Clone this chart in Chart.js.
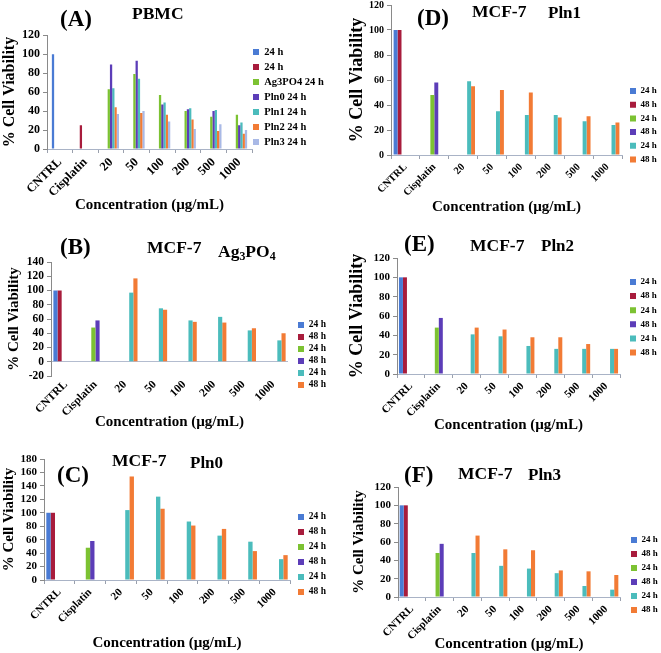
<!DOCTYPE html>
<html><head><meta charset="utf-8">
<script src="https://cdn.jsdelivr.net/npm/chart.js@4.4.0/dist/chart.umd.min.js"></script>
<style>
html,body{margin:0;padding:0;background:#fff;}
#fig{position:relative;width:661px;height:653px;overflow:hidden;background:#fff;}
#fig canvas{position:absolute;}
.t{position:absolute;font-family:"Liberation Serif","Times New Roman",serif;font-weight:bold;line-height:1;white-space:nowrap;color:#000;z-index:2;}
.t sub{font-size:0.68em;vertical-align:-0.25em;line-height:0;}
</style></head><body>
<div id="fig"></div>
<script>
// ---------- data ----------
const categories = ['CNTRL', 'Cisplatin', '20', '50', '100', '200', '500', '1000'];
const yTitle = '% Cell Viability';
const xTitle = 'Concentration (µg/mL)';

// Panel A: PBMC, 24 h
const pbmcLegend = ['24 h', '24 h', 'Ag3PO4 24 h', 'Pln0 24 h', 'Pln1 24 h', 'Pln2 24 h', 'Pln3 24 h'];
const pbmcControl   = [100, null, null, null, null, null, null, null];
const pbmcCisplatin = [null, 25, null, null, null, null, null, null];
const pbmcAg3PO4    = [null, null, 63, 79, 57, 40, 34, 36];
const pbmcPln0      = [null, null, 89, 93, 47, 42, 40, 25];
const pbmcPln1      = [null, null, 64, 74, 49, 43, 41, 28];
const pbmcPln2      = [null, null, 44, 38, 36, 31, 19, 16];
const pbmcPln3      = [null, null, 37, 40, 29, 21, 26, 20];

// MCF-7 panels (B–F)
const mcfLegend = ['24 h', '48 h', '24 h', '48 h', '24 h', '48 h'];
const mcfControl24   = [100, null, null, null, null, null, null, null];
const mcfControl48   = [100, null, null, null, null, null, null, null];
const mcfCisplatin24 = [null, 48, null, null, null, null, null, null];
const mcfCisplatin48 = [null, 58, null, null, null, null, null, null];
const ag3po4_24 = [null, null, 97, 75, 58, 63, 44, 30];
const ag3po4_48 = [null, null, 117, 73, 56, 55, 47, 40];
const pln0_24   = [null, null, 104, 124, 87, 66, 57, 31];
const pln0_48   = [null, null, 154, 106, 81, 76, 43, 37];
const pln1_24   = [null, null, 59, 35, 32, 32, 27, 24];
const pln1_48   = [null, null, 55, 52, 50, 30, 31, 26];
const pln2_24   = [null, null, 41, 39, 29, 26, 26, 26];
const pln2_48   = [null, null, 48, 46, 38, 38, 31, 26];
const pln3_24   = [null, null, 48, 34, 31, 26, 12, 8];
const pln3_48   = [null, null, 67, 52, 51, 29, 28, 24];

// ---------- styles ----------
const FONT = '"Liberation Serif", "Times New Roman", serif';
const C = {blue:'#4a7bd4', red:'#a81c3c', green:'#7cc232', purple:'#5c3db8', teal:'#4bbcbc', orange:'#f27b35', light:'#a9b9e6'};
const pbmcColors = [C.blue, C.red, C.green, C.purple, C.teal, C.orange, C.light];
const mcfColors  = [C.blue, C.red, C.green, C.purple, C.teal, C.orange];

const panels = [
  { // A
    series: [pbmcControl, pbmcCisplatin, pbmcAg3PO4, pbmcPln0, pbmcPln1, pbmcPln2, pbmcPln3],
    labels: pbmcLegend, colors: pbmcColors, yMin: 0, yMax: 120,
    cL: 0, cT: 25, cR: 330, cB: 218, chartL: 47, chartT: 35, chartB: 149, chartR: 252,
    yTitleSize: 16, yTitlePad: 0, yTickSize: 12, xTickSize: 12.5, catPct: 0.62,
    legX: 253, legY: 52, legFont: 10.5, legPad: 4.5
  },
  { // B
    series: [mcfControl24, mcfControl48, mcfCisplatin24, mcfCisplatin48, ag3po4_24, ag3po4_48],
    labels: mcfLegend, colors: mcfColors, yMin: -20, yMax: 140, zeroLine: true,
    cL: 0, cT: 252, cR: 328, cB: 435, chartL: 51, chartT: 262, chartB: 376, chartR: 288,
    yTitleSize: 15, yTitlePad: 5, yTickSize: 11.5, xTickSize: 11.5, catPct: 0.84,
    legX: 298, legY: 325, legFont: 9.5, legPad: 2.5
  },
  { // C
    series: [mcfControl24, mcfControl48, mcfCisplatin24, mcfCisplatin48, pln0_24, pln0_48],
    labels: mcfLegend, colors: mcfColors, yMin: 0, yMax: 180,
    cL: 0, cT: 449, cR: 330, cB: 656, chartL: 44, chartT: 459, chartB: 580, chartR: 290,
    yTitleSize: 15, yTitlePad: 0, yTickSize: 11, xTickSize: 11, catPct: 0.85,
    legX: 298, legY: 517, legFont: 9.5, legPad: 5.5
  },
  { // D
    series: [mcfControl24, mcfControl48, mcfCisplatin24, mcfCisplatin48, pln1_24, pln1_48],
    labels: mcfLegend, colors: mcfColors, yMin: 0, yMax: 120,
    cL: 345, cT: -5, cR: 661, cB: 220, chartL: 391, chartT: 5, chartB: 155, chartR: 622,
    yTitleSize: 18, yTitlePad: 2, yTickSize: 10, xTickSize: 10.5, catPct: 0.82,
    legX: 630, legY: 91, legFont: 9, legPad: 4.7
  },
  { // E
    series: [mcfControl24, mcfControl48, mcfCisplatin24, mcfCisplatin48, pln2_24, pln2_48],
    labels: mcfLegend, colors: mcfColors, yMin: 0, yMax: 120,
    cL: 345, cT: 248, cR: 661, cB: 438, chartL: 397, chartT: 258, chartB: 374, chartR: 620,
    yTitleSize: 18, yTitlePad: 2, yTickSize: 11, xTickSize: 11, catPct: 0.86,
    legX: 630, legY: 282, legFont: 9, legPad: 5.1
  },
  { // F
    series: [mcfControl24, mcfControl48, mcfCisplatin24, mcfCisplatin48, pln3_24, pln3_48],
    labels: mcfLegend, colors: mcfColors, yMin: 0, yMax: 120,
    cL: 345, cT: 477, cR: 661, cB: 657, chartL: 398, chartT: 487, chartB: 597, chartR: 620,
    yTitleSize: 15, yTitlePad: 5, yTickSize: 11, xTickSize: 11, catPct: 0.88,
    legX: 631, legY: 540, legFont: 9, legPad: 5
  }
];

const titles = [
  {html:'(A)', x:60, base:26, size:23}, {html:'PBMC', x:132, base:20, size:17.5},
  {html:'(D)', x:417, base:25, size:23}, {html:'MCF-7', x:472, base:18, size:17.5}, {html:'Pln1', x:548, base:18, size:17},
  {html:'(B)', x:60, base:254, size:23}, {html:'MCF-7', x:147, base:254, size:17.5}, {html:'Ag<sub>3</sub>PO<sub>4</sub>', x:218, base:258, size:17.5},
  {html:'(E)', x:404, base:251, size:23}, {html:'MCF-7', x:470, base:251.5, size:17.5}, {html:'Pln2', x:541, base:251.5, size:17},
  {html:'(C)', x:57, base:482, size:23}, {html:'MCF-7', x:112, base:466.5, size:17.5}, {html:'Pln0', x:190, base:468, size:17},
  {html:'(F)', x:404, base:482, size:23}, {html:'MCF-7', x:458, base:480, size:17.5}, {html:'Pln3', x:528, base:480, size:17}
];

// ---------- legend placement plugin ----------
const legendPlace = {
  id: 'legendPlace',
  afterLayout(chart, args, opts) {
    const lg = chart.legend;
    if (!lg || opts.x == null) return;
    const pad = lg.options.labels.padding;
    const fs = lg.options.labels.font.size;
    const dx = (opts.x - pad) - lg.left;
    lg.left += dx; lg.right += dx;
    const dy = (opts.y - fs / 2 - pad) - lg.top;
    lg.top += dy; lg.bottom += dy;
  }
};

const fig = document.getElementById('fig');

titles.forEach(t => {
  const d = document.createElement('div');
  d.className = 't';
  d.innerHTML = t.html;
  d.style.left = t.x + 'px';
  d.style.fontSize = t.size + 'px';
  d.style.top = (t.base - 0.84 * t.size) + 'px';
  fig.appendChild(d);
});

panels.forEach(p => {
  const cv = document.createElement('canvas');
  const w = p.cR - p.cL, h = p.cB - p.cT;
  cv.width = w; cv.height = h;
  cv.style.left = p.cL + 'px'; cv.style.top = p.cT + 'px';
  cv.style.width = w + 'px'; cv.style.height = h + 'px';
  fig.appendChild(cv);
  const padTop = p.chartT - p.cT;
  const yW = p.chartL - p.cL;
  const xH = p.cB - p.chartB;
  const zero = !!p.zeroLine;
  new Chart(cv, {
    type: 'bar',
    data: {
      labels: categories,
      datasets: p.series.map((s, i) => ({
        label: p.labels[i], data: s, backgroundColor: p.colors[i], borderWidth: 0,
        barPercentage: 1, categoryPercentage: p.catPct
      }))
    },
    options: {
      responsive: false, animation: false, devicePixelRatio: 1,
      layout: {padding: {top: padTop, left: 0, right: 0, bottom: 0}},
      plugins: {
        tooltip: {enabled: false},
        legend: {
          display: true, position: 'right', align: 'start', fullSize: true,
          maxWidth: p.cR - p.chartR,
          labels: {boxWidth: 6, boxHeight: 6, padding: p.legPad, color: '#000',
                   font: {family: FONT, weight: 'bold', size: p.legFont}}
        },
        legendPlace: {x: p.legX - p.cL, y: p.legY - p.cT}
      },
      scales: {
        x: {
          offset: true,
          grid: {display: true, drawOnChartArea: false, drawTicks: !zero, tickLength: 4, tickColor: '#9aa0ad', offset: true},
          border: {display: !zero, color: '#a9b3c6'},
          ticks: {minRotation: 45, maxRotation: 45, autoSkip: false, padding: 2, color: '#000',
                  font: {family: FONT, weight: 'bold', size: p.xTickSize}},
          title: {display: true, text: xTitle, color: '#000', padding: {top: 0, bottom: 4},
                  font: {family: FONT, weight: 'bold', size: 15}},
          afterFit: s => { s.height = xH; }
        },
        y: {
          min: p.yMin, max: p.yMax,
          ticks: {stepSize: 20, autoSkip: false, padding: 3, color: '#000', font: {family: FONT, weight: 'bold', size: p.yTickSize}},
          grid: {display: true, drawOnChartArea: zero, drawTicks: true, tickLength: 4, tickColor: '#8a8a8a',
                 color: ctx => (zero && ctx.tick && ctx.tick.value === 0) ? '#b3bccf' : 'rgba(0,0,0,0)'},
          border: {display: true, color: '#8a8a8a'},
          title: {display: true, text: yTitle, color: '#000', padding: {top: p.yTitlePad, bottom: 0},
                  font: {family: FONT, weight: 'bold', size: p.yTitleSize}},
          afterFit: s => { s.width = yW; }
        }
      }
    },
    plugins: [legendPlace]
  });
});
</script>
</body></html>
